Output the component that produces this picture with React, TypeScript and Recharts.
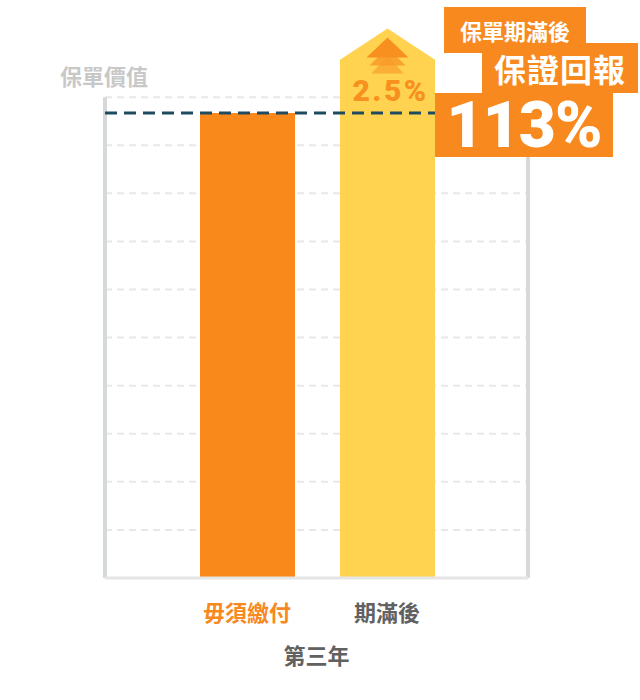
import { BarChart, Bar, XAxis, YAxis, CartesianGrid, ReferenceLine, Cell, LabelList } from 'recharts'

// 保單價值 (arbitrary units, top gridline = 100)
const categories = ['毋須繳付', '期滿後']
const policyValues = [96.7, 114.3]
const growthNotes = ['', '2.5%']
const barShapes = ['rect', 'arrow']
const barColors = ['#f8891a', '#ffd34f']
const tickColors = ['#f7891f', '#616161']
const yTicks = [0, 10, 20, 30, 40, 50, 60, 70, 80, 90, 100]

const FONT = '"Noto Sans CJK TC", "Noto Sans", sans-serif'
const NUM_FONT = 'Roboto, "Noto Sans", sans-serif'
const ORANGE = '#f7891f'

const data = categories.map((name, i) => ({
  name,
  value: policyValues[i],
  note: growthNotes[i],
  shape: barShapes[i],
}))

function ValueBar(props: any) {
  const { x, y, width, height, fill, payload } = props
  if (payload.shape !== 'arrow') {
    return <rect x={x} y={y} width={width} height={height} fill={fill} />
  }
  const cx = x + width / 2
  const head = width * 0.33
  const tri = (top: number, bottom: number, half: number) =>
    `${cx},${y + top} ${cx + half},${y + bottom} ${cx - half},${y + bottom}`
  return (
    <g>
      <polygon
        points={`${x},${y + head} ${cx},${y} ${x + width},${y + head} ${x + width},${y + height} ${x},${y + height}`}
        fill={fill}
      />
      <polygon points={tri(27, 45, 16)} fill="#f9a12e" opacity={0.75} />
      <polygon points={tri(19, 37, 18)} fill="#f89a28" opacity={0.85} />
      <polygon points={tri(9, 29, 21)} fill="#f7901e" />
    </g>
  )
}

// skip the line that recharts puts on the top edge of the plot
function GridLine(props: any) {
  const { x1, y1, x2, y2, y, stroke, strokeWidth, strokeDasharray } = props
  if (Math.abs(y1 - y) < 1) return null
  return (
    <line x1={x1} y1={y1} x2={x2} y2={y2} stroke={stroke} strokeWidth={strokeWidth} strokeDasharray={strokeDasharray} />
  )
}

function CategoryTick(props: any) {
  const { x, y, payload, index } = props
  return (
    <text
      x={x}
      y={y}
      dy={41}
      textAnchor="middle"
      fill={tickColors[index]}
      fontSize={22}
      fontWeight={600}
      fontFamily={FONT}
    >
      {payload.value}
    </text>
  )
}

const box = (left: number, top: number, width: number, height: number): React.CSSProperties => ({
  position: 'absolute',
  left,
  top,
  width,
  height,
  background: ORANGE,
  color: '#fff',
  fontFamily: FONT,
  fontWeight: 700,
  display: 'flex',
  alignItems: 'center',
  justifyContent: 'center',
  whiteSpace: 'nowrap',
})

export default function App() {
  return (
    <div style={{ position: 'relative', width: 640, height: 700, background: '#fff' }}>
      <style>{`body{margin:0}`}</style>
      <BarChart width={640} height={700} data={data} margin={{ top: 1, right: 112, bottom: 0, left: 105 }}>
        <CartesianGrid
          vertical={false}
          horizontal={(p: any) => <GridLine {...p} />}
          stroke="#e8e8e8"
          strokeWidth={2}
          strokeDasharray="7 5"
        />
        <XAxis
          dataKey="name"
          height={122}
          padding={{ left: 72, right: 71 }}
          axisLine={{ stroke: '#e5e5e5', strokeWidth: 3 }}
          tickLine={false}
          tickSize={0}
          interval={0}
          tick={<CategoryTick />}
          label={{
            value: '第三年',
            position: 'insideTop',
            offset: 70,
            fill: '#616161',
            fontSize: 22,
            fontWeight: 600,
            fontFamily: FONT,
          }}
        />
        <XAxis xAxisId="frame" type="number" domain={[0, 1]} allowDataOverflow hide />
        <YAxis type="number" domain={[0, 120]} ticks={yTicks} hide />
        <ReferenceLine
          xAxisId="frame"
          segment={[{ x: 0, y: 0 }, { x: 0, y: 100 }]}
          stroke="#d6d9d9"
          strokeWidth={4}
        />
        <ReferenceLine
          xAxisId="frame"
          segment={[{ x: 1, y: 0 }, { x: 1, y: 100 }]}
          stroke="#d6d9d9"
          strokeWidth={4}
        />
        <Bar dataKey="value" barSize={95} shape={<ValueBar />} isAnimationActive={false}>
          {data.map((d, i) => (
            <Cell key={d.name} fill={barColors[i]} />
          ))}
          <LabelList
            dataKey="note"
            position="insideTop"
            offset={51}
            dx={3}
            fill="#f7901e"
            fontSize={30}
            fontWeight={900}
            fontFamily={NUM_FONT}
            letterSpacing={2.5}
          />
        </Bar>
        <ReferenceLine y={policyValues[0]} stroke="#1f4b61" strokeWidth={3} strokeDasharray="12 7" />
      </BarChart>

      <div
        style={{
          position: 'absolute',
          left: 60,
          top: 63,
          fontFamily: FONT,
          fontWeight: 700,
          fontSize: 22,
          lineHeight: '24px',
          color: '#c8c8c8',
        }}
      >
        保單價值
      </div>

      <div style={{ ...box(444, 7, 142, 46), fontSize: 22 }}>
        <span style={{ lineHeight: 1 }}>保單期滿後</span>
      </div>
      <div style={{ ...box(482, 43, 156, 50), fontSize: 32, letterSpacing: 1 }}>
        <span style={{ lineHeight: 1 }}>保證回報</span>
      </div>
      <div style={{ ...box(435, 93, 178, 64), fontFamily: NUM_FONT, fontWeight: 900, fontSize: 64, letterSpacing: -1 }}>
        <span style={{ lineHeight: 1, marginTop: 2 }}>113%</span>
      </div>
    </div>
  )
}
